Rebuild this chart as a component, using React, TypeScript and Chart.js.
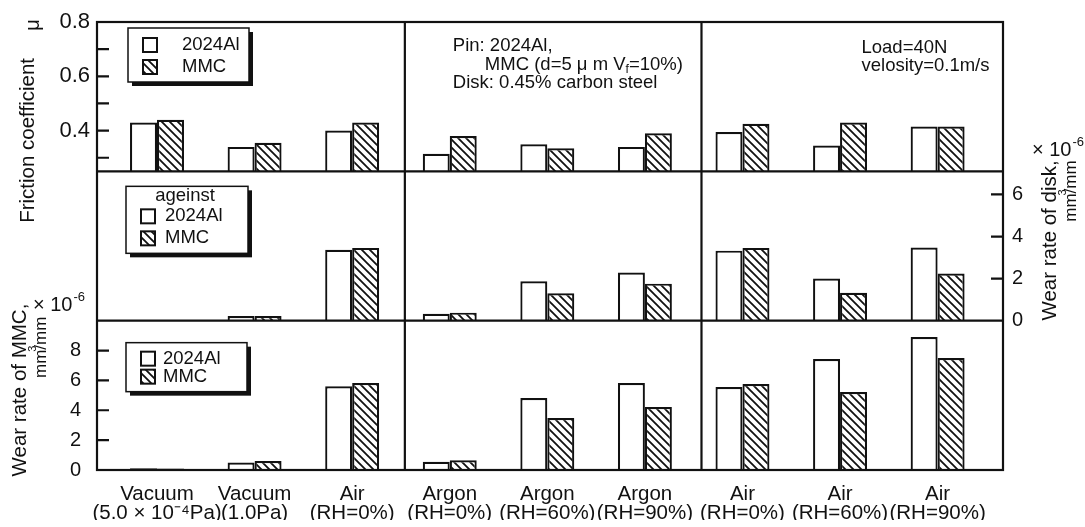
import { useEffect, useRef } from 'react';
import { Chart, registerables } from 'chart.js';

Chart.register(...registerables);

const FONT = '"Liberation Sans", Arial, Helvetica, sans-serif';
const INK = '#111';

// ---------------- data ----------------
const CATEGORY_NAMES = ['Vacuum', 'Vacuum', 'Air', 'Argon', 'Argon', 'Argon', 'Air', 'Air', 'Air'];
const CATEGORY_CONDITIONS = ['(5.0 × 10⁻⁴Pa)', '(1.0Pa)', '(RH=0%)', '(RH=0%)', '(RH=60%)', '(RH=90%)', '(RH=0%)', '(RH=60%)', '(RH=90%)'];
const SERIES = ['2024Al', 'MMC'];

const FRICTION_2024AL = [0.43, 0.34, 0.40, 0.315, 0.35, 0.34, 0.395, 0.345, 0.415];
const FRICTION_MMC = [0.44, 0.355, 0.43, 0.38, 0.335, 0.39, 0.425, 0.43, 0.415];

const DISK_WEAR_2024AL = [0, 0.22, 3.37, 0.33, 1.87, 2.29, 3.33, 2.0, 3.48];
const DISK_WEAR_MMC = [0, 0.22, 3.46, 0.38, 1.3, 1.76, 3.46, 1.33, 2.24];

const MMC_WEAR_2024AL = [0.12, 0.5, 5.6, 0.55, 4.82, 5.83, 5.56, 7.43, 8.9];
const MMC_WEAR_MMC = [0.1, 0.6, 5.83, 0.65, 3.48, 4.22, 5.76, 5.22, 7.5];

const FRICTION_RANGE = [0.25, 0.8];
const FRICTION_TICKS = [0.3, 0.4, 0.5, 0.6, 0.7, 0.8];
const FRICTION_TICK_LABELS = ['', '0.4', '', '0.6', '', '0.8'];

const DISK_RANGE = [0, 7.1];
const DISK_TICKS = [0, 2, 4, 6];
const DISK_TICK_LABELS = ['0', '2', '4', '6'];

const MMC_RANGE = [0, 10];
const MMC_TICKS = [0, 2, 4, 6, 8];
const MMC_TICK_LABELS = ['0', '2', '4', '6', '8'];

const X_RANGE = [-0.615, 8.67];
const GROUP_DIVIDERS = [2.54, 5.58];

// ---------------- helpers ----------------
function makeHatch(): CanvasPattern {
  const c = document.createElement('canvas');
  c.width = 8;
  c.height = 8;
  const g = c.getContext('2d')!;
  g.fillStyle = '#fff';
  g.fillRect(0, 0, 8, 8);
  g.strokeStyle = INK;
  g.lineWidth = 1.8;
  g.beginPath();
  g.moveTo(-2, -2); g.lineTo(10, 10);
  g.moveTo(-2, 6); g.lineTo(2, 10);
  g.moveTo(6, -2); g.lineTo(10, 2);
  g.stroke();
  return g.createPattern(c, 'repeat')!;
}

function put(ctx: CanvasRenderingContext2D, s: string, x: number, y: number, size: number,
  align: CanvasTextAlign = 'left', rot = 0) {
  ctx.save();
  ctx.translate(x, y);
  if (rot) ctx.rotate(rot);
  ctx.font = `${size}px ${FONT}`;
  ctx.textAlign = align;
  ctx.textBaseline = 'middle';
  ctx.fillStyle = INK;
  ctx.fillText(s, 0, 0);
  ctx.restore();
}

function width(ctx: CanvasRenderingContext2D, s: string, size: number) {
  ctx.save();
  ctx.font = `${size}px ${FONT}`;
  const w = ctx.measureText(s).width;
  ctx.restore();
  return w;
}

function putTimesTen(ctx: CanvasRenderingContext2D, x: number, y: number) {
  put(ctx, '× 10', x, y, 20);
  const w = width(ctx, '× 10', 20);
  put(ctx, '-6', x + w + 1, y - 8, 13);
}

// "mm³/mm" written upward, ending at (x, yEnd), with the 3 raised over the slash
function putUnit(ctx: CanvasRenderingContext2D, x: number, yEnd: number) {
  const size = 17;
  const a = 'mm';
  const b = '/mm';
  const total = width(ctx, a + b, size);
  ctx.save();
  ctx.translate(x, yEnd);
  ctx.rotate(-Math.PI / 2);
  ctx.fillStyle = INK;
  ctx.textBaseline = 'middle';
  ctx.textAlign = 'left';
  ctx.font = `${size}px ${FONT}`;
  ctx.fillText(a, -total, 0);
  ctx.fillText(b, -total + width(ctx, a, size), 0);
  ctx.font = `11px ${FONT}`;
  ctx.fillText('3', -total + width(ctx, a, size) - 2, -8);
  ctx.restore();
}

function drawLegend(ctx: CanvasRenderingContext2D, left: number, top: number, w: number, h: number,
  title: string | null, rows: number[], sqX: number, txX: number, fills: (string | CanvasPattern)[]) {
  ctx.save();
  ctx.fillStyle = INK;
  ctx.fillRect(left + 4, top + 4, w, h);
  ctx.fillStyle = '#fff';
  ctx.fillRect(left, top, w, h);
  ctx.strokeStyle = INK;
  ctx.lineWidth = 1.5;
  ctx.strokeRect(left, top, w, h);
  if (title) put(ctx, title, left + w / 2 - 2, top + 10, 18.5, 'center');
  rows.forEach((ry, i) => {
    ctx.fillStyle = fills[i];
    ctx.fillRect(left + sqX, top + ry - 7, 14, 14);
    ctx.lineWidth = 2;
    ctx.strokeStyle = INK;
    ctx.strokeRect(left + sqX, top + ry - 7, 14, 14);
    put(ctx, SERIES[i], left + txX, top + ry, 18.5);
  });
  ctx.restore();
}

export default function App() {
  const ref = useRef<HTMLCanvasElement>(null);

  useEffect(() => {
    const canvas = ref.current!;
    const hatch = makeHatch();
    const fills: (string | CanvasPattern)[] = ['#ffffff', hatch];
    const points = (vals: number[]) => vals.map((v, i) => ({ x: i, y: v }));

    const panels = [
      { axis: 'yTop', values: [FRICTION_2024AL, FRICTION_MMC], base: FRICTION_RANGE[0] },
      { axis: 'yMid', values: [DISK_WEAR_2024AL, DISK_WEAR_MMC], base: DISK_RANGE[0] },
      { axis: 'yBot', values: [MMC_WEAR_2024AL, MMC_WEAR_MMC], base: MMC_RANGE[0] },
    ];

    const datasets = panels.flatMap((p) => p.values.map((vals, s) => ({
      label: SERIES[s],
      data: points(vals),
      yAxisID: p.axis,
      stack: SERIES[s],
      base: p.base,
      backgroundColor: fills[s],
      borderColor: INK,
      borderWidth: 2.2,
      categoryPercentage: 0.553,
      barPercentage: 1,
    })));

    const setTicks = (vals: number[]) => (s: any) => { s.ticks = vals.map((v) => ({ value: v })); };
    const fixWidth = (w: number) => (s: any) => { s.width = w; s.paddingTop = 0; s.paddingBottom = 0; };
    const hiddenGrid = { display: false, drawTicks: false, offset: false };

    const valueAxis = (position: string, stack: string, weight: number, range: number[], ticks: number[],
      labels: string[], w: number, padding: number, size: number) => ({
      type: 'linear', position, stack, stackWeight: 1, weight, stacked: false,
      min: range[0], max: range[1],
      grid: hiddenGrid, border: { display: false },
      afterBuildTicks: setTicks(ticks),
      afterFit: fixWidth(w),
      ticks: {
        autoSkip: false, padding, color: INK, font: { family: FONT, size },
        callback: (_v: any, i: number) => labels[i],
      },
    });
    const dummyAxis = (position: string, stack: string, weight: number) => ({
      type: 'linear', position, stack, stackWeight: 1, weight, display: false,
    });

    const framePlugin = {
      id: 'frame',
      afterDatasetsDraw(chart: any) {
        const { ctx, chartArea: a, scales } = chart;
        ctx.save();
        ctx.strokeStyle = INK;
        ctx.lineWidth = 2.2;
        ctx.strokeRect(a.left, a.top, a.right - a.left, a.bottom - a.top);
        ctx.beginPath();
        [scales.yTop.bottom, scales.yBot.top].forEach((y: number) => {
          ctx.moveTo(a.left, y); ctx.lineTo(a.right, y);
        });
        GROUP_DIVIDERS.forEach((v) => {
          const x = scales.x.getPixelForValue(v);
          ctx.moveTo(x, a.top); ctx.lineTo(x, a.bottom);
        });
        const inward = (scale: any, ticks: number[], range: number[], x0: number, dir: number) => {
          ticks.forEach((t) => {
            if (t <= range[0] || t >= range[1]) return;
            const y = scale.getPixelForValue(t);
            ctx.moveTo(x0, y); ctx.lineTo(x0 + dir * 12, y);
          });
        };
        inward(scales.yTop, FRICTION_TICKS, FRICTION_RANGE, a.left, 1);
        inward(scales.yMid, DISK_TICKS, DISK_RANGE, a.right, -1);
        inward(scales.yBot, MMC_TICKS, MMC_RANGE, a.left, 1);
        ctx.stroke();
        ctx.restore();
      },
    };

    const textPlugin = {
      id: 'texts',
      afterDraw(chart: any) {
        const { ctx, chartArea: a, scales } = chart;
        const topT = scales.yTop.top;
        const midT = scales.yMid.top;
        const botT = scales.yBot.top;
        const d1 = scales.x.getPixelForValue(GROUP_DIVIDERS[0]);
        const d2 = scales.x.getPixelForValue(GROUP_DIVIDERS[1]);
        const R = -Math.PI / 2;

        // axis titles
        put(ctx, 'μ', a.left - 64, topT + 3, 20, 'center', R);
        put(ctx, 'Friction coefficient', a.left - 69, topT + 36, 20.5, 'right', R);
        put(ctx, 'Wear rate of MMC,', a.left - 77, botT - 17, 20.5, 'right', R);
        putUnit(ctx, a.left - 56, botT - 4);
        putTimesTen(ctx, a.left - 64, botT - 15);
        put(ctx, 'Wear rate of disk,', a.right + 47, midT - 11, 20.5, 'right', R);
        putUnit(ctx, a.right + 68, midT - 11);
        putTimesTen(ctx, a.right + 29, midT - 21);

        // annotations
        put(ctx, 'Pin: 2024Al,', d1 + 48, topT + 24, 18.5);
        const l2 = 'MMC (d=5 μ m V';
        const x2 = d1 + 80;
        put(ctx, l2, x2, topT + 43, 18.5);
        const w2 = width(ctx, l2, 18.5);
        put(ctx, 'f', x2 + w2, topT + 48, 12);
        put(ctx, '=10%)', x2 + w2 + width(ctx, 'f', 12), topT + 43, 18.5);
        put(ctx, 'Disk: 0.45% carbon steel', d1 + 48, topT + 61, 18.5);
        put(ctx, 'Load=40N', d2 + 160, topT + 26, 18.5);
        put(ctx, 'velosity=0.1m/s', d2 + 160, topT + 44, 18.5);

        // legends
        drawLegend(ctx, a.left + 31, topT + 6, 121, 54, null, [17, 39], 15, 54, fills);
        drawLegend(ctx, a.left + 29, midT + 15, 122, 67, 'ageinst', [30, 52], 15, 39, fills);
        drawLegend(ctx, a.left + 29, botT + 22, 121, 49, null, [16, 34], 15, 37, fills);
      },
    };

    const chart = new Chart(canvas, {
      type: 'bar',
      data: { datasets } as any,
      options: {
        responsive: false,
        animation: false,
        devicePixelRatio: 1,
        layout: { padding: { left: 47, right: 42, top: 22, bottom: 7 } },
        plugins: { legend: { display: false }, tooltip: { enabled: false } },
        scales: {
          x: {
            type: 'linear', position: 'bottom', min: X_RANGE[0], max: X_RANGE[1], offset: false,
            grid: hiddenGrid, border: { display: false },
            afterBuildTicks: setTicks(CATEGORY_NAMES.map((_, i) => i)),
            afterFit: (s: any) => { s.height = 50; },
            ticks: {
              autoSkip: false, maxRotation: 0, minRotation: 0, padding: 15, color: INK,
              font: { family: FONT, size: 20.5, lineHeight: 0.93 },
              callback: (_v: any, i: number) => [CATEGORY_NAMES[i], CATEGORY_CONDITIONS[i]],
            },
          },
          yTop: valueAxis('left', 'left', 3, FRICTION_RANGE, FRICTION_TICKS, FRICTION_TICK_LABELS, 50, 7, 22),
          yMidL: dummyAxis('left', 'left', 2),
          yBot: valueAxis('left', 'left', 1, MMC_RANGE, MMC_TICKS, MMC_TICK_LABELS, 50, 16, 20),
          yTopR: dummyAxis('right', 'right', 1),
          yMid: valueAxis('right', 'right', 2, DISK_RANGE, DISK_TICKS, DISK_TICK_LABELS, 40, 9, 20),
          yBotR: dummyAxis('right', 'right', 3),
        } as any,
      },
      plugins: [framePlugin, textPlugin],
    });
    return () => chart.destroy();
  }, []);

  return (
    <div style={{ position: 'absolute', left: 0, top: 0, width: 1085, height: 527, background: '#fff' }}>
      <canvas ref={ref} width={1085} height={527} style={{ display: 'block' }} />
    </div>
  );
}
